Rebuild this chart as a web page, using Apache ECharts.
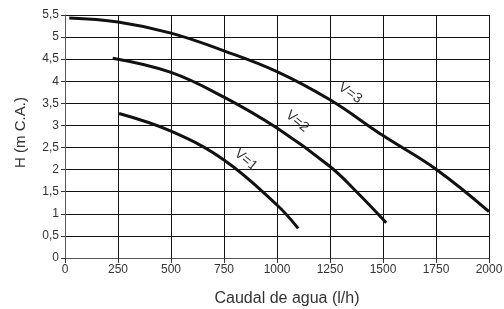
<!DOCTYPE html>
<html>
<head>
<meta charset="utf-8">
<script src="https://cdn.jsdelivr.net/npm/echarts@6/dist/echarts.min.js"></script>
<style>
  html, body { margin: 0; padding: 0; background: #fff; }
  #chart { width: 504px; height: 309px; }
</style>
</head>
<body>
<div id="chart"></div>
<script>
// Pump curves: caudal (l/h) vs H (m C.A.)
const curveV1 = [[255, 3.27], [500, 2.87], [750, 2.22], [1000, 1.2], [1100, 0.67]];
const curveV2 = [[225, 4.52], [500, 4.2], [750, 3.64], [1000, 2.94], [1250, 2.07], [1375, 1.5], [1515, 0.8]];
const curveV3 = [[20, 5.43], [250, 5.34], [500, 5.09], [750, 4.69], [1000, 4.22], [1250, 3.58], [1500, 2.77], [1750, 2.01], [2000, 1.05]];
const curveNames = ['V=1', 'V=2', 'V=3'];
// label anchors in data space
const labelAnchors = [[853, 2.22], [1095, 3.09], [1345, 3.73]];
const labelAngles = [-40, -40, -35];

const chart = echarts.init(document.getElementById('chart'));
const fontFamily = 'Liberation Sans, Arial, sans-serif';

function curveSeries(data, i) {
    return {
        name: curveNames[i],
        type: 'line',
        smooth: 0.4,
        symbol: 'none',
        data: data,
        lineStyle: { color: '#111', width: 3 },
        markPoint: {
            symbol: 'circle',
            symbolSize: 0,
            silent: true,
            data: [{
                coord: labelAnchors[i],
                label: {
                    show: true,
                    formatter: curveNames[i],
                    rotate: labelAngles[i],
                    color: '#333',
                    fontSize: 14,
                    fontFamily: fontFamily,
                    position: 'inside'
                }
            }]
        }
    };
}

const option = {
    animation: false,
    grid: { left: 65, right: 15, top: 15, bottom: 51, outerBoundsMode: 'none', containLabel: false },
    xAxis: {
        type: 'value',
        min: 0,
        max: 2000,
        interval: 250,
        name: 'Caudal de agua (l/h)',
        nameLocation: 'middle',
        nameGap: 33,
        nameTextStyle: { fontSize: 16, color: '#333', fontFamily: fontFamily, padding: [0, 0, 0, 20] },
        axisLine: { lineStyle: { color: '#555', width: 1 } },
        axisTick: { show: true, length: 5, lineStyle: { color: '#333' } },
        axisLabel: {
            fontSize: 12, color: '#333', fontFamily: fontFamily, margin: 6,
            formatter: function(v) { return String(v); }
        },
        splitLine: { show: true, lineStyle: { color: '#111', width: 1 } }
    },
    yAxis: {
        type: 'value',
        min: 0,
        max: 5.5,
        interval: 0.5,
        name: 'H (m C.A.)',
        nameLocation: 'middle',
        nameGap: 37,
        nameTextStyle: { fontSize: 15, color: '#333', fontFamily: fontFamily, padding: [0, 0, 0, 8] },
        axisLine: { show: true, lineStyle: { color: '#555', width: 1 } },
        axisTick: { show: true, length: 4, lineStyle: { color: '#333' } },
        axisLabel: {
            fontSize: 12, color: '#333', fontFamily: fontFamily, margin: 6,
            formatter: function(v) { return String(v).replace('.', ','); }
        },
        splitLine: { show: true, lineStyle: { color: '#111', width: 1 } }
    },
    series: [curveV1, curveV2, curveV3].map(curveSeries)
};
chart.setOption(option);
</script>
</body>
</html>
